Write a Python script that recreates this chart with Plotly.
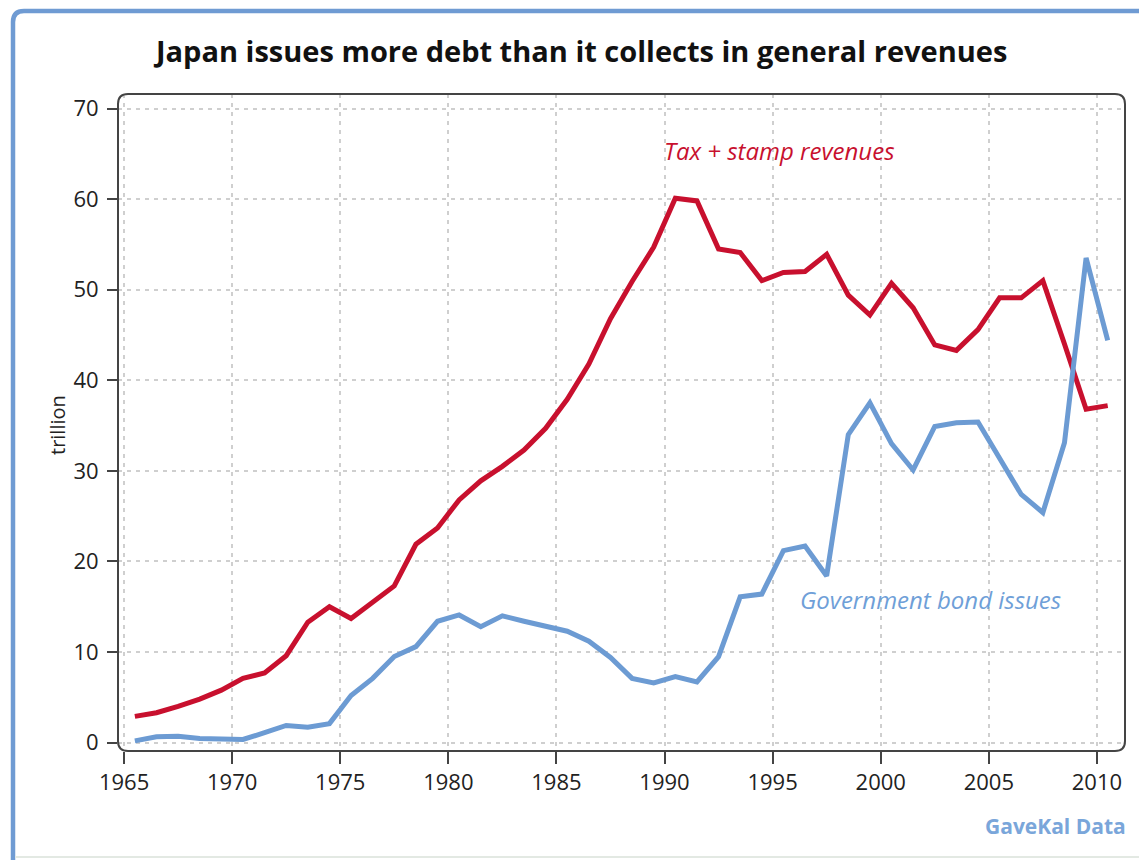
import plotly.graph_objects as go

# Fiscal years and series (trillion yen)
years = list(range(1965, 2011))

tax_stamp = [2.9, 3.3, 4.0, 4.8, 5.8, 7.1, 7.7, 9.6, 13.3, 15.0,
             13.7, 15.5, 17.3, 21.9, 23.7, 26.8, 28.9, 30.5, 32.3, 34.7,
             37.9, 41.8, 46.8, 50.9, 54.7, 60.1, 59.8, 54.5, 54.1, 51.0,
             51.9, 52.0, 53.9, 49.4, 47.2, 50.7, 48.0, 43.9, 43.3, 45.6,
             49.1, 49.1, 51.0, 44.0, 36.8, 37.2]

bond_issues = [0.2, 0.65, 0.7, 0.45, 0.4, 0.35, 1.1, 1.9, 1.7, 2.1,
               5.2, 7.1, 9.5, 10.6, 13.4, 14.1, 12.8, 14.0, 13.4, 12.8,
               12.3, 11.2, 9.4, 7.1, 6.6, 7.3, 6.7, 9.5, 16.1, 16.4,
               21.2, 21.7, 18.4, 34.0, 37.5, 33.0, 30.1, 34.9, 35.3, 35.4,
               31.3, 27.4, 25.4, 33.1, 53.5, 44.4]

x_ticks = list(range(1965, 2011, 5))
y_ticks = list(range(0, 71, 10))

# each fiscal year is plotted at mid-year
x_pos = [y + 0.5 for y in years]

RED = "#c8102e"
BLUE = "#6c9bd3"
TEXT_BLUE = "#6f9fd8"
FONT = "Open Sans"

W, H = 1139, 860
L, R, T, B = 118, 14, 94, 109
PW, PH = W - L - R, H - T - B


def px_x(px):
    return (px - L) / PW


def px_y(py):
    return (H - B - py) / PH


fig = go.Figure()

fig.add_trace(go.Scatter(
    x=x_pos, y=tax_stamp, mode="lines", name="Tax + stamp revenues",
    line=dict(color=RED, width=5), hoverinfo="x+y"))

fig.add_trace(go.Scatter(
    x=x_pos, y=bond_issues, mode="lines", name="Government bond issues",
    line=dict(color=BLUE, width=5), hoverinfo="x+y"))

grid = dict(gridcolor="#cfcfcf", gridwidth=1.5, griddash="4px,5px",
            ticks="outside", tickcolor="#444", tickwidth=2,
            showline=False, zeroline=False,
            tickfont=dict(family=FONT, size=22, color="#222"))

fig.update_xaxes(range=[1964.72, 2011.3], tickvals=x_ticks, ticklen=12,
                 **grid)
fig.update_yaxes(range=[-0.92, 71.6], tickvals=y_ticks, ticklen=10,
                 ticklabelstandoff=4, **grid)

# rounded plot frame
rx, ry = 10 / PW, 10 / PH
frame = (f"M {rx},0 L {1-rx},0 Q 1,0 1,{ry} L 1,{1-ry} Q 1,1 {1-rx},1 "
         f"L {rx},1 Q 0,1 0,{1-ry} L 0,{ry} Q 0,0 {rx},0 Z")
shapes = [dict(type="path", xref="paper", yref="paper", path=frame,
               line=dict(color="#444", width=2), layer="above")]

# outer panel border
bx, by = px_x(13), px_y(11)
border = (f"M {bx},{px_y(875)} L {bx},{px_y(22)} "
          f"Q {bx},{by} {px_x(24)},{by} L {px_x(1160)},{by}")
shapes.append(dict(type="path", xref="paper", yref="paper", path=border,
                   line=dict(color="#6f9bd3", width=4.5)))
shapes.append(dict(type="line", xref="paper", yref="paper",
                   x0=px_x(15), x1=px_x(1160), y0=px_y(857), y1=px_y(857),
                   line=dict(color="#e3e9e3", width=2)))

annotations = [
    dict(text="<b>Japan issues more debt than it collects in general revenues</b>",
         xref="paper", yref="paper", x=px_x(580), y=px_y(50),
         xanchor="center", yanchor="middle", showarrow=False,
         font=dict(family=FONT, size=29, color="#111")),
    dict(text="trillion", xref="paper", yref="paper", x=px_x(57), y=px_y(425),
         textangle=-90, xanchor="center", yanchor="middle", showarrow=False,
         font=dict(family=FONT, size=20, color="#222")),
    dict(text="<i>Tax + stamp revenues</i>", x=1995.3, y=65.4,
         xanchor="center", yanchor="middle", showarrow=False,
         font=dict(family=FONT, size=24, color=RED)),
    dict(text="<i>Government bond issues</i>", x=2002.3, y=15.75,
         xanchor="center", yanchor="middle", showarrow=False,
         font=dict(family=FONT, size=24, color=TEXT_BLUE)),
    dict(text="<b>GaveKal Data</b>", xref="paper", yref="paper",
         x=px_x(1128), y=px_y(826), xanchor="right", yanchor="middle",
         showarrow=False, font=dict(family=FONT, size=21, color="#7aa6da")),
]

fig.update_layout(
    width=W, height=H,
    margin=dict(l=L, r=R, t=T, b=B),
    paper_bgcolor="white", plot_bgcolor="white",
    showlegend=False,
    shapes=shapes, annotations=annotations,
)

fig.write_html("out.html")
